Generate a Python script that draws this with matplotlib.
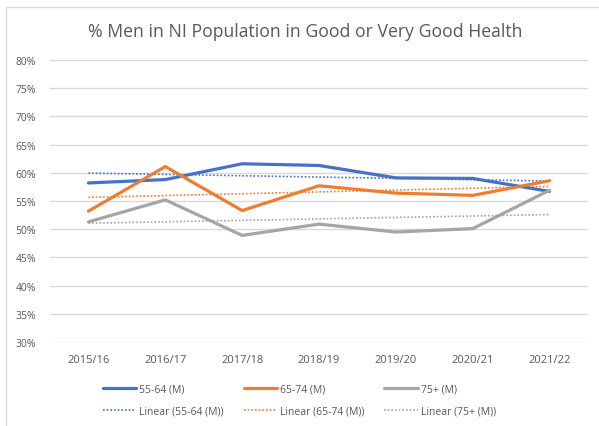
import numpy as np
import matplotlib.pyplot as plt
from matplotlib.patches import Rectangle
from matplotlib.ticker import PercentFormatter

# 数据
years = ['2015/16', '2016/17', '2017/18', '2018/19', '2019/20', '2020/21', '2021/22']
age_55_64 = [58.2, 58.8, 61.6, 61.3, 59.1, 59.0, 56.7]
age_65_74 = [53.2, 61.1, 53.3, 57.7, 56.4, 56.0, 58.6]
age_75_plus = [51.3, 55.2, 48.9, 50.9, 49.5, 50.1, 56.9]

series_names = ['55-64 (M)', '65-74 (M)', '75+ (M)']
series_colors = ['#4472C4', '#ED7D31', '#A5A5A5']

text_color = '#595959'
grid_color = '#D9D9D9'

plt.rcParams['font.family'] = ['Open Sans', 'DejaVu Sans']

fig = plt.figure(figsize=(5.99, 4.27), dpi=100)
ax = fig.add_axes([50 / 599, 84 / 427, 538 / 599, 282 / 427])

# 外框
fig.patches.append(Rectangle((6 / 599, -0.05), 1.0, (427 - 8) / 427 + 0.05,
                             transform=fig.transFigure, fill=False,
                             edgecolor='#D9D9D9', linewidth=1.0))

x = np.arange(len(years))
handles = []
for values, name, color in zip([age_55_64, age_65_74, age_75_plus], series_names, series_colors):
    line, = ax.plot(x, values, color=color, linewidth=2.3, label=name,
                    solid_capstyle='round', zorder=3)
    # Excel 线性趋势线
    slope, intercept = np.polyfit(x, values, 1)
    trend, = ax.plot(x, slope * x + intercept, color=color, linewidth=1.2,
                     linestyle=(0, (1, 1.2)), label=f'Linear ({name})', zorder=2)
    handles += [line, trend]

ax.set_xlim(-0.5, len(years) - 0.5)
ax.set_ylim(30, 80)
ax.set_yticks(np.arange(30, 81, 5))
ax.yaxis.set_major_formatter(PercentFormatter(decimals=0))
ax.set_xticks(x)
ax.set_xticklabels(years)
ax.grid(axis='y', color=grid_color, linewidth=1.0)
ax.set_axisbelow(True)
for side in ['top', 'right', 'left', 'bottom']:
    ax.spines[side].set_visible(False)
ax.tick_params(length=0, colors=text_color, labelsize=7.5)
ax.tick_params(axis='x', labelsize=8, pad=8.5)
ax.tick_params(axis='y', pad=10)

fig.text(0.51, 1 - 32 / 427, '% Men in NI Population in Good or Very Good Health',
         ha='center', va='center', fontsize=12.7, color=text_color)

leg = fig.legend(handles=handles, ncol=3, loc='center',
                 bbox_to_anchor=(0.5, 1 - 401 / 427), frameon=False,
                 fontsize=7.5, handlelength=3.2, handletextpad=0.3,
                 columnspacing=1.9, labelspacing=1.0)
for t in leg.get_texts():
    t.set_color(text_color)

fig.savefig('out.png', dpi=100)
